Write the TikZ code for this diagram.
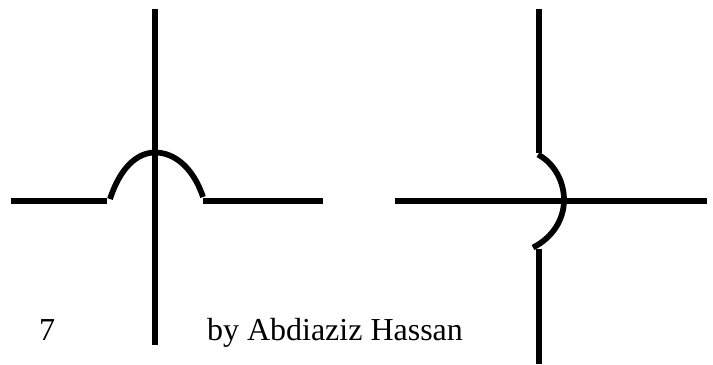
\documentclass[tikz,border=0pt]{standalone}
\usepackage{fontspec}
\setmainfont{Liberation Serif}
\tikzset{
  wire/.style={line width=4.5pt,black,line cap=butt},
  hop/.style={line width=4.3pt,black,line cap=butt},
  lbl/.style={inner sep=0pt,outer sep=0pt,anchor=base west,font=\fontsize{24pt}{28pt}\selectfont}
}
\begin{document}
\begin{tikzpicture}[x=0.75pt,y=-0.75pt]
\useasboundingbox (0,0) rectangle (713,364);
% left crossing
\draw[wire] (155,9) -- (155,345);
\draw[wire] (11,201.3) -- (107,201.3);
\draw[wire] (203,201.3) -- (323,201.3);
\draw[hop] (110,199) .. controls (120,168) and (137,152.5) .. (155,152.5) .. controls (174,152.5) and (193,167) .. (203,197);
% right crossing
\draw[wire] (539,9) -- (539,153);
\draw[wire] (539,249) -- (539,364);
\draw[wire] (395,201.3) -- (707,201.3);
\draw[hop] (538,154.5) .. controls (555,164) and (564,182) .. (564,200) .. controls (564,220) and (552,238) .. (533,247.5);
% labels
\node[lbl] (num) at (39,340.5) {7};
\node[lbl] (by) at (207,340.5) {by Abdiaziz Hassan};
\end{tikzpicture}
\end{document}
